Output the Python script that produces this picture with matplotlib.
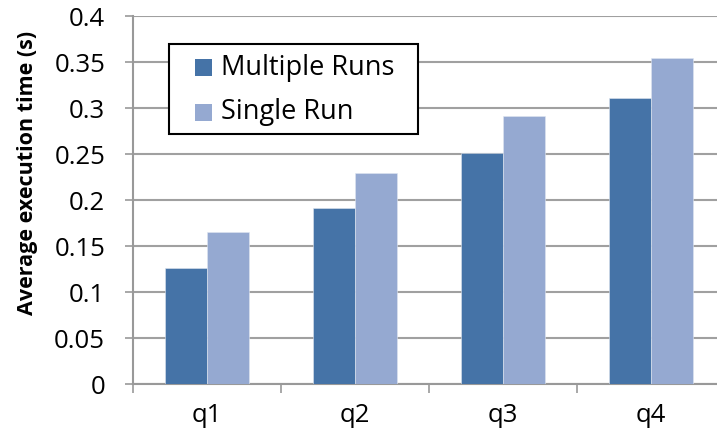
import matplotlib.pyplot as plt
from matplotlib.patches import Rectangle
import numpy as np

plt.rcParams['font.family'] = ['Open Sans', 'DejaVu Sans']

queries = ['q1', 'q2', 'q3', 'q4']
multiple_runs = [0.126, 0.191, 0.251, 0.311]
single_run = [0.165, 0.229, 0.291, 0.354]
series_names = ['Multiple Runs', 'Single Run']
colors = ['#4573A7', '#95A9D1']

W, H = 717, 440
fig = plt.figure(figsize=(W/100, H/100), dpi=100)
# right edge of the plot runs past the picture, as in the original
ax = fig.add_axes([133/W, 56/H, 592/W, 368/H])

x = np.arange(len(queries))
w = 0.284
ax.bar(x - w/2, multiple_runs, w, color=colors[0], edgecolor='#dfe6f0', linewidth=0.4, zorder=3)
ax.bar(x + w/2, single_run, w, color=colors[1], edgecolor='#dfe6f0', linewidth=0.4, zorder=3)

ax.set_xlim(-0.5, 3.5)
ax.set_ylim(0, 0.4)
ax.set_yticks(np.arange(0, 0.41, 0.05))
ax.set_yticklabels(['0', '0.05', '0.1', '0.15', '0.2', '0.25', '0.3', '0.35', '0.4'])
ax.set_xticks(x)
ax.set_xticklabels(queries)
ax.set_xticks(np.arange(-0.5, 4, 1), minor=True)
ax.tick_params(axis='x', which='major', length=0, pad=14, labelsize=18.5)
ax.tick_params(axis='x', which='minor', length=6.5, width=1.2, color='#999999')
ax.tick_params(axis='y', length=6, width=1.2, color='#999999', labelsize=18.5, pad=14)

ax.grid(axis='y', color='#a0a0a0', linewidth=1.5, zorder=0)
for s in ['top', 'right']:
    ax.spines[s].set_visible(False)
for s in ['left', 'bottom']:
    ax.spines[s].set_color('#999999')
    ax.spines[s].set_linewidth(1.5)

ax.set_ylabel('Average execution time (s)', fontsize=15.5, fontweight='bold')
ax.yaxis.set_label_coords(-95/592, (384 - 173) / 368)

# legend box drawn by hand (pixel positions from the picture)
def fx(px):
    return px / W
def fy(py):
    return 1 - py / H

fig.patches.append(Rectangle((fx(169), fy(134)), fx(418) - fx(169), fy(44) - fy(134),
                             transform=fig.transFigure, facecolor='white',
                             edgecolor='black', linewidth=1.5, zorder=5))
for i, (name, c) in enumerate(zip(series_names, colors)):
    cy = 67.5 + 45 * i
    fig.patches.append(Rectangle((fx(195), fy(cy + 8.5)), fx(212) - fx(195), fy(cy - 8.5) - fy(cy + 8.5),
                                 transform=fig.transFigure, facecolor=c, edgecolor='none', zorder=6))
    fig.text(fx(221), fy(cy), name, fontsize=19.5, va='center', ha='left', zorder=7)

fig.savefig('out.png', dpi=100)
